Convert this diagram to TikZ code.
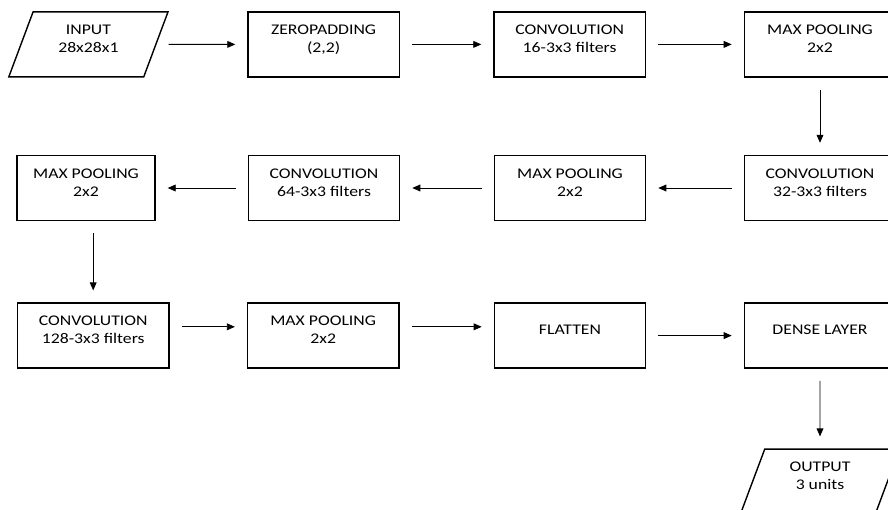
\documentclass[tikz,border=0pt]{standalone}
\usepackage{fontspec}
\setmainfont{Carlito}[FakeStretch=1.2]
\usetikzlibrary{arrows.meta,shapes.geometric}

\tikzset{
  layer/.style={rectangle,draw=black,line width=1pt,align=center,
    minimum width=3.78cm,minimum height=1.625cm,text depth=0.27cm,
    font=\fontsize{10.5}{12.8}\selectfont},
  io/.style={layer,trapezium,trapezium left angle=63,trapezium right angle=117,
    trapezium stretches body,minimum width=3.98cm},
  link/.style={line width=0.6pt,-{Triangle[length=2mm,width=1.7mm]},
    shorten <=0.3cm,shorten >=0.3cm}
}

\begin{document}
\begin{tikzpicture}
        \clip (0.00,0.00) rectangle (22.20,-12.73);

        \node[io]    (input)  at  ( 2.21,-1.11) {INPUT\\28x28x1};
        \node[layer] (zero)   at  ( 8.09,-1.11) {ZEROPADDING\\(2,2)};
        \node[layer] (convA)  at  (14.24,-1.11) {CONVOLUTION\\16-3x3 filters};
        \node[layer] (maxpA)  at  (20.50,-1.11) {MAX POOLING\\2x2};

        \node[layer] (convB)  at  (20.50,-4.70) {CONVOLUTION\\32-3x3 filters};
        \node[layer] (maxpB)  at  (14.25,-4.70) {MAX POOLING\\2x2};
        \node[layer] (convC)  at  ( 8.10,-4.70) {CONVOLUTION\\64-3x3 filters};
        \node[layer,minimum width=3.45cm] (maxpC) at ( 2.15,-4.70) {MAX POOLING\\2x2};

        \node[layer] (convD)  at  ( 2.33,-8.39) {CONVOLUTION\\128-3x3 filters};
        \node[layer] (maxpD)  at  ( 8.08,-8.39) {MAX POOLING\\2x2};
        \node[layer] (flat)   at  (14.25,-8.39) {FLATTEN};
        \node[layer] (dense)  at  (20.50,-8.39) {DENSE LAYER};

        \node[io]    (output) at  (20.50,-12.04) {OUTPUT\\3 units};

        \draw[link]  (input) to (zero);
        \draw[link]  (zero) to (convA);
        \draw[link]  (convA) to (maxpA);
        \draw[link]  (maxpA) to (convB);
        \draw[link]  (convB) to (maxpB);
        \draw[link]  (maxpB) to (convC);
        \draw[link]  (convC) to (maxpC);
        \draw[link]  (maxpC.south -| convD) to (convD);
        \draw[link]  ([yshift=0.22cm]convD.east) to ([yshift=0.22cm]maxpD.west);
        \draw[link]  ([yshift=0.22cm]maxpD.east) to ([yshift=0.22cm]flat.west);
        \draw[link]  (flat) to (dense);
        \draw[link]  (dense) to (output);
      \end{tikzpicture}
\end{document}
